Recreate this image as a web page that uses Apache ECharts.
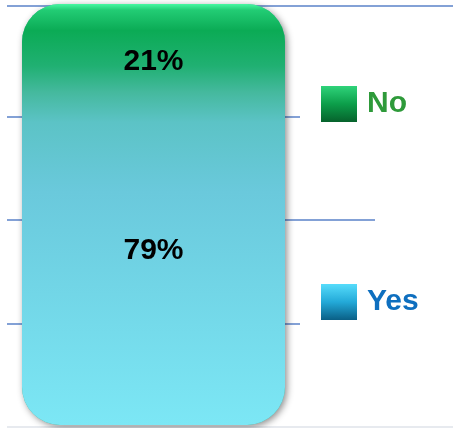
<!DOCTYPE html>
<html>
<head>
<meta charset="utf-8">
<script src="https://cdn.jsdelivr.net/npm/echarts@6/dist/echarts.min.js"></script>
<style>
  html, body { margin: 0; padding: 0; background: #fff; }
  #chart { width: 453px; height: 428px; }
</style>
</head>
<body>
<div id="chart"></div>
<script>
  // data
  const categories = ['Answer'];
  const yesValues = [79];
  const noValues = [21];
  const yMin = 0, yMax = 100, yStep = 25;

  const blue = '#5a82c8';
  const grey = '#dfe3ea';
  const none = 'rgba(0,0,0,0)';
  const seam = '#45b99e'; // where green meets blue
  const font = '"Liberation Sans", Arial, sans-serif';

  const chart = echarts.init(document.getElementById('chart'));

  const grad = (stops) => new echarts.graphic.LinearGradient(0, 0, 0, 1,
    stops.map(([offset, color]) => ({ offset, color })));

  // hidden value axis; colors pick which gridlines show
  const plainAxis = (gridIndex, interval, colors) => ({
    type: 'value', gridIndex, min: yMin, max: yMax, interval,
    axisLine: { show: false }, axisTick: { show: false }, axisLabel: { show: false },
    splitLine: { show: !!colors, lineStyle: { color: colors || none, width: 1.5 } }
  });
  const hiddenCat = (gridIndex) => ({ type: 'category', data: categories, gridIndex, show: false });

  const option = {
    animation: false,
    grid: [
      { left: 7, width: 293, top: 4, bottom: 3 },   // the bar
      { left: 7, width: 293, top: 13, bottom: 1 },  // 25 / 50 / 75 lines
      { left: 300, width: 75, top: 13, bottom: 1 }, // 50 line goes on
      { left: 375, right: 0, top: 13, bottom: 1 },  // only the base line
      { left: 7, right: 0, top: 6, bottom: 1 }      // top line, full width
    ],
    xAxis: [0, 1, 2, 3, 4].map(hiddenCat),
    yAxis: [
      plainAxis(0, yStep, null),
      plainAxis(1, yStep, [grey, blue, blue, blue, none]),
      plainAxis(2, 50, [grey, blue, none]),
      plainAxis(3, 100, [grey, none]),
      plainAxis(4, 100, [none, blue])
    ],
    legend: [
      {
        data: [{ name: 'No', itemStyle: { color: grad([[0, '#2fd37a'], [0.5, '#0c9e4a'], [1, '#06622c']]) } }],
        left: 316, top: 81, icon: 'rect', itemWidth: 36, itemHeight: 36,
        textStyle: { color: '#2e9a3a', fontSize: 30, fontWeight: 'bold', fontFamily: font, padding: [0, 0, 0, 5] }
      },
      {
        data: [{ name: 'Yes', itemStyle: { color: grad([[0, '#56dcfb'], [0.5, '#23a9d8'], [1, '#0a5f86']]) } }],
        left: 316, top: 279, icon: 'rect', itemWidth: 36, itemHeight: 36,
        textStyle: { color: '#0e6fbf', fontSize: 30, fontWeight: 'bold', fontFamily: font, padding: [0, 0, 0, 5] }
      }
    ],
    series: [
      {
        name: 'Yes',
        type: 'bar',
        stack: 'total',
        data: yesValues,
        barWidth: 263,
        showBackground: true,
        backgroundStyle: {
          color: seam,
          borderRadius: 38,
          shadowBlur: 7,
          shadowOffsetX: 2,
          shadowOffsetY: 2,
          shadowColor: 'rgba(0,0,0,0.45)'
        },
        itemStyle: {
          borderRadius: [0, 0, 38, 38],
          color: grad([[0, seam], [0.09, '#5cc3c6'], [0.3, '#6ac9dc'], [1, '#7ce7f5']])
        },
        label: {
          show: true, position: 'inside', formatter: '{c}%', offset: [0, -8],
          color: '#000', fontSize: 30, fontWeight: 'bold', fontFamily: font
        }
      },
      {
        name: 'No',
        type: 'bar',
        stack: 'total',
        data: noValues,
        barWidth: 263,
        itemStyle: {
          borderRadius: [38, 38, 0, 0],
          color: grad([[0, '#48f8a2'], [0.07, '#22cc74'], [0.3, '#0bab55'], [0.7, '#20b072'], [1, seam]])
        },
        label: {
          show: true, position: 'inside', formatter: '{c}%', offset: [0, 14],
          color: '#000', fontSize: 30, fontWeight: 'bold', fontFamily: font
        }
      }
    ]
  };

  chart.setOption(option);
</script>
</body>
</html>
